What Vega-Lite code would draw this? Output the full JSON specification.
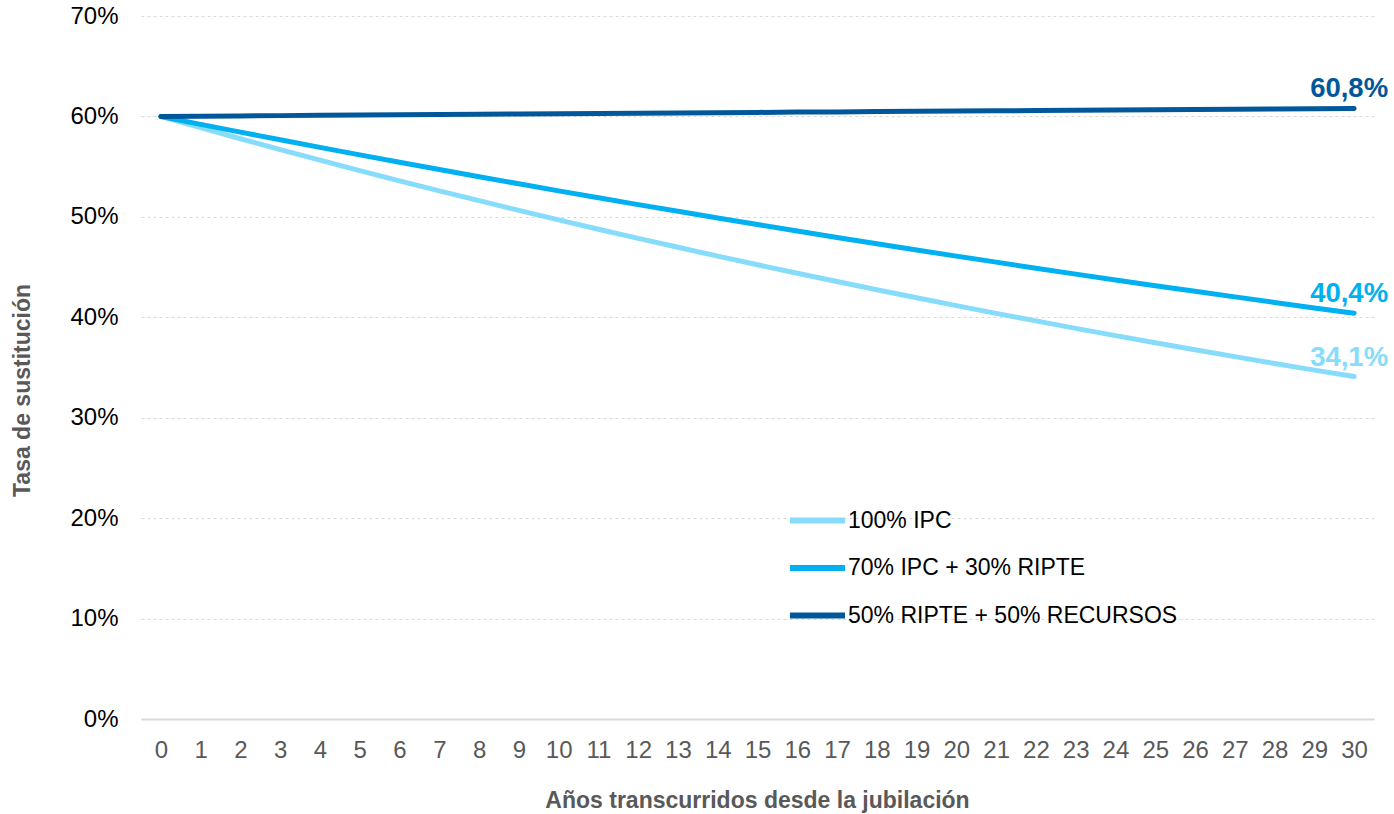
{
  "$schema": "https://vega.github.io/schema/vega-lite/v6.json",
  "width": 1233,
  "height": 703,
  "autosize": {"type": "none"},
  "padding": {"left": 141, "top": 16, "right": 20, "bottom": 95},
  "background": "white",
  "config": {
    "font": "Liberation Sans",
    "view": {"stroke": null}
  },
  "data": {
    "values": [
      {"anio": 0, "serie": "100% IPC", "valor": 60.0},
      {"anio": 1, "serie": "100% IPC", "valor": 58.88},
      {"anio": 2, "serie": "100% IPC", "valor": 57.78},
      {"anio": 3, "serie": "100% IPC", "valor": 56.70},
      {"anio": 4, "serie": "100% IPC", "valor": 55.65},
      {"anio": 5, "serie": "100% IPC", "valor": 54.61},
      {"anio": 6, "serie": "100% IPC", "valor": 53.59},
      {"anio": 7, "serie": "100% IPC", "valor": 52.59},
      {"anio": 8, "serie": "100% IPC", "valor": 51.61},
      {"anio": 9, "serie": "100% IPC", "valor": 50.64},
      {"anio": 10, "serie": "100% IPC", "valor": 49.70},
      {"anio": 11, "serie": "100% IPC", "valor": 48.77},
      {"anio": 12, "serie": "100% IPC", "valor": 47.86},
      {"anio": 13, "serie": "100% IPC", "valor": 46.97},
      {"anio": 14, "serie": "100% IPC", "valor": 46.09},
      {"anio": 15, "serie": "100% IPC", "valor": 45.23},
      {"anio": 16, "serie": "100% IPC", "valor": 44.39},
      {"anio": 17, "serie": "100% IPC", "valor": 43.56},
      {"anio": 18, "serie": "100% IPC", "valor": 42.74},
      {"anio": 19, "serie": "100% IPC", "valor": 41.95},
      {"anio": 20, "serie": "100% IPC", "valor": 41.16},
      {"anio": 21, "serie": "100% IPC", "valor": 40.39},
      {"anio": 22, "serie": "100% IPC", "valor": 39.64},
      {"anio": 23, "serie": "100% IPC", "valor": 38.90},
      {"anio": 24, "serie": "100% IPC", "valor": 38.17},
      {"anio": 25, "serie": "100% IPC", "valor": 37.46},
      {"anio": 26, "serie": "100% IPC", "valor": 36.76},
      {"anio": 27, "serie": "100% IPC", "valor": 36.08},
      {"anio": 28, "serie": "100% IPC", "valor": 35.40},
      {"anio": 29, "serie": "100% IPC", "valor": 34.74},
      {"anio": 30, "serie": "100% IPC", "valor": 34.1},
      {"anio": 0, "serie": "70% IPC + 30% RIPTE", "valor": 60.0},
      {"anio": 1, "serie": "70% IPC + 30% RIPTE", "valor": 59.21},
      {"anio": 2, "serie": "70% IPC + 30% RIPTE", "valor": 58.44},
      {"anio": 3, "serie": "70% IPC + 30% RIPTE", "valor": 57.67},
      {"anio": 4, "serie": "70% IPC + 30% RIPTE", "valor": 56.92},
      {"anio": 5, "serie": "70% IPC + 30% RIPTE", "valor": 56.17},
      {"anio": 6, "serie": "70% IPC + 30% RIPTE", "valor": 55.44},
      {"anio": 7, "serie": "70% IPC + 30% RIPTE", "valor": 54.71},
      {"anio": 8, "serie": "70% IPC + 30% RIPTE", "valor": 53.99},
      {"anio": 9, "serie": "70% IPC + 30% RIPTE", "valor": 53.29},
      {"anio": 10, "serie": "70% IPC + 30% RIPTE", "valor": 52.59},
      {"anio": 11, "serie": "70% IPC + 30% RIPTE", "valor": 51.90},
      {"anio": 12, "serie": "70% IPC + 30% RIPTE", "valor": 51.22},
      {"anio": 13, "serie": "70% IPC + 30% RIPTE", "valor": 50.55},
      {"anio": 14, "serie": "70% IPC + 30% RIPTE", "valor": 49.89},
      {"anio": 15, "serie": "70% IPC + 30% RIPTE", "valor": 49.23},
      {"anio": 16, "serie": "70% IPC + 30% RIPTE", "valor": 48.59},
      {"anio": 17, "serie": "70% IPC + 30% RIPTE", "valor": 47.95},
      {"anio": 18, "serie": "70% IPC + 30% RIPTE", "valor": 47.32},
      {"anio": 19, "serie": "70% IPC + 30% RIPTE", "valor": 46.70},
      {"anio": 20, "serie": "70% IPC + 30% RIPTE", "valor": 46.09},
      {"anio": 21, "serie": "70% IPC + 30% RIPTE", "valor": 45.49},
      {"anio": 22, "serie": "70% IPC + 30% RIPTE", "valor": 44.89},
      {"anio": 23, "serie": "70% IPC + 30% RIPTE", "valor": 44.30},
      {"anio": 24, "serie": "70% IPC + 30% RIPTE", "valor": 43.72},
      {"anio": 25, "serie": "70% IPC + 30% RIPTE", "valor": 43.15},
      {"anio": 26, "serie": "70% IPC + 30% RIPTE", "valor": 42.59},
      {"anio": 27, "serie": "70% IPC + 30% RIPTE", "valor": 42.03},
      {"anio": 28, "serie": "70% IPC + 30% RIPTE", "valor": 41.48},
      {"anio": 29, "serie": "70% IPC + 30% RIPTE", "valor": 40.93},
      {"anio": 30, "serie": "70% IPC + 30% RIPTE", "valor": 40.4},
      {"anio": 0, "serie": "50% RIPTE + 50% RECURSOS", "valor": 60.0},
      {"anio": 1, "serie": "50% RIPTE + 50% RECURSOS", "valor": 60.03},
      {"anio": 2, "serie": "50% RIPTE + 50% RECURSOS", "valor": 60.05},
      {"anio": 3, "serie": "50% RIPTE + 50% RECURSOS", "valor": 60.08},
      {"anio": 4, "serie": "50% RIPTE + 50% RECURSOS", "valor": 60.11},
      {"anio": 5, "serie": "50% RIPTE + 50% RECURSOS", "valor": 60.13},
      {"anio": 6, "serie": "50% RIPTE + 50% RECURSOS", "valor": 60.16},
      {"anio": 7, "serie": "50% RIPTE + 50% RECURSOS", "valor": 60.19},
      {"anio": 8, "serie": "50% RIPTE + 50% RECURSOS", "valor": 60.21},
      {"anio": 9, "serie": "50% RIPTE + 50% RECURSOS", "valor": 60.24},
      {"anio": 10, "serie": "50% RIPTE + 50% RECURSOS", "valor": 60.27},
      {"anio": 11, "serie": "50% RIPTE + 50% RECURSOS", "valor": 60.29},
      {"anio": 12, "serie": "50% RIPTE + 50% RECURSOS", "valor": 60.32},
      {"anio": 13, "serie": "50% RIPTE + 50% RECURSOS", "valor": 60.35},
      {"anio": 14, "serie": "50% RIPTE + 50% RECURSOS", "valor": 60.37},
      {"anio": 15, "serie": "50% RIPTE + 50% RECURSOS", "valor": 60.40},
      {"anio": 16, "serie": "50% RIPTE + 50% RECURSOS", "valor": 60.43},
      {"anio": 17, "serie": "50% RIPTE + 50% RECURSOS", "valor": 60.45},
      {"anio": 18, "serie": "50% RIPTE + 50% RECURSOS", "valor": 60.48},
      {"anio": 19, "serie": "50% RIPTE + 50% RECURSOS", "valor": 60.51},
      {"anio": 20, "serie": "50% RIPTE + 50% RECURSOS", "valor": 60.53},
      {"anio": 21, "serie": "50% RIPTE + 50% RECURSOS", "valor": 60.56},
      {"anio": 22, "serie": "50% RIPTE + 50% RECURSOS", "valor": 60.59},
      {"anio": 23, "serie": "50% RIPTE + 50% RECURSOS", "valor": 60.61},
      {"anio": 24, "serie": "50% RIPTE + 50% RECURSOS", "valor": 60.64},
      {"anio": 25, "serie": "50% RIPTE + 50% RECURSOS", "valor": 60.67},
      {"anio": 26, "serie": "50% RIPTE + 50% RECURSOS", "valor": 60.69},
      {"anio": 27, "serie": "50% RIPTE + 50% RECURSOS", "valor": 60.72},
      {"anio": 28, "serie": "50% RIPTE + 50% RECURSOS", "valor": 60.75},
      {"anio": 29, "serie": "50% RIPTE + 50% RECURSOS", "valor": 60.77},
      {"anio": 30, "serie": "50% RIPTE + 50% RECURSOS", "valor": 60.8}
    ]
  },
  "encoding": {
    "x": {
      "field": "anio",
      "type": "ordinal",
      "scale": {"type": "point", "padding": 0.5},
      "axis": {
        "title": "Años transcurridos desde la jubilación",
        "labelAngle": 0,
        "labelFont": "Liberation Sans",
        "labelFontSize": 24,
        "labelColor": "#595959",
        "labelPadding": 19,
        "ticks": false,
        "domain": true,
        "domainColor": "#d9d9d9",
        "domainWidth": 2,
        "grid": false,
        "titleFont": "Liberation Sans",
        "titleFontSize": 23,
        "titleFontWeight": "bold",
        "titleColor": "#595959",
        "titleAnchor": null,
        "titleX": 616,
        "titleY": 81,
        "titleBaseline": "middle",
        "titleAlign": "center"
      }
    },
    "y": {
      "field": "valor",
      "type": "quantitative",
      "scale": {"domain": [0, 70], "nice": false, "zero": true},
      "axis": {
        "title": "Tasa de sustitución",
        "values": [0, 10, 20, 30, 40, 50, 60, 70],
        "labelExpr": "datum.value + '%'",
        "labelFont": "Liberation Sans",
        "labelFontSize": 24,
        "labelColor": "#000000",
        "labelPadding": 23,
        "ticks": false,
        "domain": false,
        "grid": true,
        "gridColor": "#d9d9d9",
        "gridDash": [3, 3],
        "gridWidth": 1,
        "titleFont": "Liberation Sans",
        "titleFontSize": 23,
        "titleFontWeight": "bold",
        "titleColor": "#595959",
        "titleAnchor": null,
        "titleAngle": -90,
        "titleX": -119,
        "titleY": 374,
        "titleBaseline": "middle",
        "titleAlign": "center"
      }
    },
    "color": {
      "field": "serie",
      "type": "nominal",
      "scale": {
        "domain": ["100% IPC", "70% IPC + 30% RIPTE", "50% RIPTE + 50% RECURSOS"],
        "range": ["#86DCFA", "#00B0F0", "#00589A"]
      },
      "legend": {
        "title": null,
        "orient": "none",
        "legendX": 646,
        "legendY": 474,
        "padding": 0,
        "symbolType": "stroke",
        "symbolSize": 3025,
        "symbolStrokeWidth": 6,
        "labelFont": "Liberation Sans",
        "labelFontSize": 23,
        "labelColor": "#000000",
        "labelOffset": 0,
        "labelLimit": 0,
        "rowPadding": 4.5
      }
    }
  },
  "layer": [
    {
      "mark": {"type": "line", "strokeWidth": 5, "strokeCap": "round", "strokeJoin": "round"}
    },
    {
      "transform": [
        {"filter": "datum.anio == 30"},
        {"calculate": "replace(format(datum.valor, '.1f'), '.', ',') + '%'", "as": "etiqueta"}
      ],
      "mark": {
        "type": "text",
        "align": "right",
        "baseline": "alphabetic",
        "dx": 34,
        "dy": -11,
        "font": "Liberation Sans",
        "fontSize": 27.5,
        "fontWeight": "bold"
      },
      "encoding": {
        "text": {"field": "etiqueta"}
      }
    }
  ]
}
